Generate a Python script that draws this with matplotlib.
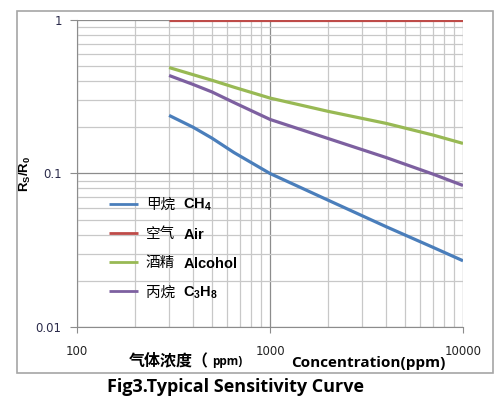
import matplotlib
matplotlib.use("Agg")
from matplotlib import pyplot as plt
from matplotlib.patches import Rectangle
from matplotlib.ticker import LogLocator, NullFormatter, FixedLocator, FixedFormatter

plt.rcParams['font.family'] = ['DejaVu Sans', 'Noto Sans CJK SC']
plt.rcParams['mathtext.fontset'] = 'custom'
plt.rcParams['mathtext.rm'] = 'Liberation Sans'
plt.rcParams['mathtext.bf'] = 'Liberation Sans:bold'

conc = [300, 400, 500, 650, 1000, 2000, 4000, 7000, 10000]
ch4 = [0.239, 0.20, 0.17, 0.137, 0.10, 0.067, 0.045, 0.033, 0.027]
air = [1, 1, 1, 1, 1, 1, 1, 1, 1]
alcohol = [0.49, 0.44, 0.405, 0.365, 0.31, 0.254, 0.212, 0.178, 0.157]
propane = [0.435, 0.38, 0.34, 0.29, 0.225, 0.169, 0.127, 0.099, 0.0835]

names_cn = ['甲烷', '空气', '酒精', '丙烷']
names_en = ['$\\mathbf{CH_4}$', '$\\mathbf{Air}$', '$\\mathbf{Alcohol}$', '$\\mathbf{C_3H_8}$']
colors = ['#4a7ebb', '#be4b48', '#98b954', '#7d60a0']

fig = plt.figure(figsize=(5.04, 4.03), dpi=100)
fig.patches.append(Rectangle((0.0337, 0.0744), 0.9444, 0.8983, transform=fig.transFigure,
                             fill=False, edgecolor='#a6a6a6', linewidth=1.2))
ax = fig.add_axes([0.1528, 0.1886, 0.7659, 0.7618])

for y, name, c in zip([ch4, air, alcohol, propane], names_cn, colors):
    ax.plot(conc, y, color=c, linewidth=2.3, label=name, solid_capstyle='butt')

ax.set_xscale('log')
ax.set_yscale('log')
ax.set_xlim(100, 10000)
ax.set_ylim(0.01, 1)

ax.xaxis.set_major_locator(FixedLocator([100, 1000, 10000]))
ax.xaxis.set_major_formatter(FixedFormatter(['100', '1000', '10000']))
ax.yaxis.set_major_locator(FixedLocator([0.01, 0.1, 1]))
ax.yaxis.set_major_formatter(FixedFormatter(['0.01', '0.1', '1']))
ax.xaxis.set_minor_locator(LogLocator(base=10, subs=range(2, 10)))
ax.yaxis.set_minor_locator(LogLocator(base=10, subs=range(2, 10)))
ax.xaxis.set_minor_formatter(NullFormatter())
ax.yaxis.set_minor_formatter(NullFormatter())

ax.grid(which='minor', color='#c8c8c8', linewidth=0.9)
ax.grid(which='major', color='#8c8c8c', linewidth=0.9)
ax.set_axisbelow(True)
ax.tick_params(which='minor', length=0)
ax.tick_params(axis='y', which='major', length=5, color='#8c8c8c', labelsize=8.5,
               labelcolor='#2a2a4a', pad=6)
ax.tick_params(axis='x', which='major', length=4, color='#8c8c8c', labelsize=8.5,
               labelcolor='#222222', pad=9)
for s in ['top', 'right']:
    ax.spines[s].set_visible(False)
for s in ['left', 'bottom']:
    ax.spines[s].set_color('#8c8c8c')

ax.set_ylabel('$\\mathbf{R_S/R_0}$', fontsize=9.5, labelpad=2)

leg = ax.legend(loc='upper left', bbox_to_anchor=(0.048, 0.463), frameon=False,
                prop={'family': 'Noto Sans CJK SC', 'size': 10.5},
                handlelength=2.0, labelspacing=1.04, handletextpad=0.55)
for line in leg.get_lines():
    line.set_linewidth(2.0)

# bold English names next to the Chinese legend entries
fig.canvas.draw()
inv = fig.transFigure.inverted()
for t, en in zip(leg.get_texts(), names_en):
    bb = t.get_window_extent()
    x, y = inv.transform((bb.x1 + 8, (bb.y0 + bb.y1) / 2))
    fig.text(x, y, en, fontsize=10.5, ha='left', va='center')

fig.text(0.255, 0.107, '气体浓度（', fontsize=11.5, fontweight='bold', ha='left', va='center',
         family=['Noto Sans CJK SC', 'DejaVu Sans'])
fig.text(0.421, 0.104, 'ppm)', fontsize=8.5, fontweight='bold', ha='left', va='center',
         family='Open Sans')
fig.text(0.73, 0.10, 'Concentration(ppm)', fontsize=11, fontweight='bold', ha='center',
         va='center', family='Open Sans')
fig.text(0.468, 0.04, 'Fig3.Typical Sensitivity Curve', fontsize=13, fontweight='bold',
         ha='center', va='center', family='Open Sans')

fig.savefig('out.png', dpi=100)
